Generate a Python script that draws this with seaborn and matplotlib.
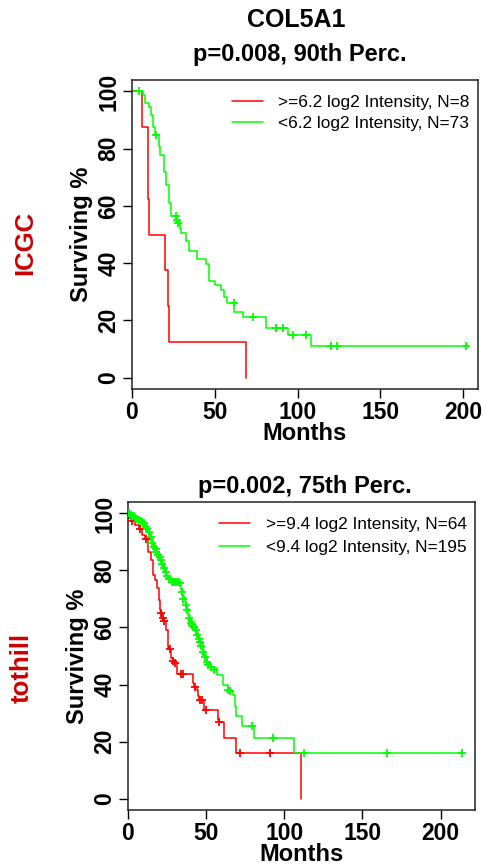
import matplotlib
matplotlib.use("Agg")
import matplotlib.pyplot as plt
import seaborn as sns

# ICGC panel (90th percentile cut)
icgc_hi_t = [0, 6.0, 9.7, 10.3, 20.2, 21.8, 22.6, 69.1]
icgc_hi_s = [100, 87.5, 62.5, 50, 37.5, 25, 12.5, 0]
icgc_lo_t = [0, 6.7, 7.7, 10.3, 11.7, 12.7, 13.7, 16.3, 16.8, 19.2, 20.8, 22.4, 23.8,
             27.0, 27.6, 28.9, 29.9, 32.5, 34.5, 39.0, 44.6, 46.6, 50.1, 53.5, 55.5,
             57.5, 61.9, 67.2, 80.7, 94.5, 108.2, 201.8]
icgc_lo_s = [100, 98.6, 95.9, 94.5, 91.8, 87.7, 84.9, 80.8, 77.9, 72.0, 67.3, 61.0, 56.3,
             55.0, 54.0, 52.0, 50.4, 47.8, 44.4, 41.4, 39.8, 33.6, 32.2, 30.6, 28.0,
             26.2, 22.8, 21.2, 17.3, 14.8, 11.0, 11.0]
icgc_lo_cens_t = [4.2, 14.3, 26.4, 27.2, 27.9, 61.6, 72.9, 87.0, 91.0, 97.1, 104.9, 120.3, 124.1, 201.8]
icgc_lo_cens_s = [100, 84.9, 56.3, 55.0, 54.0, 26.2, 21.2, 17.3, 17.3, 14.8, 14.8, 11.0, 11.0, 11.0]

# tothill panel (75th percentile cut)
toth_hi_t = [0, 0.6, 2.1, 4.3, 7.1, 9.2, 10.7, 12.8, 15.0, 16.0, 17.1, 18.6, 19.9, 20.7,
             21.2, 22.0, 22.7, 24.2, 25.7, 26.5, 27.8, 28.5, 29.5, 31.4, 41.3, 42.5,
             44.3, 44.9, 45.5, 48.6, 57.8, 58.2, 61.4, 68.9, 110.8]
toth_hi_s = [100, 98.4, 97.3, 95.8, 94.4, 92.6, 91.2, 86.6, 83.7, 78.4, 76.7, 73.7, 69.7, 66.2,
             65.2, 63.2, 62.4, 59.2, 53.3, 52.4, 49.2, 48.4, 47.7, 43.6, 40.5, 39.3,
             38.2, 35.8, 34.7, 31.2, 27.7, 26.8, 21.2, 16.0, 0]
toth_hi_cens_t = [2.6, 7.9, 11.8, 21.4, 22.5, 22.9, 26.7, 28.9, 29.9, 33.6, 34.9, 42.8,
                  46.0, 47.1, 49.6, 58.4, 71.7, 90.9]
toth_hi_cens_s = [97.3, 94.4, 91.2, 65.2, 63.2, 62.4, 52.4, 48.4, 47.7, 43.6, 43.6, 39.3,
                  34.7, 34.7, 31.2, 26.8, 16.0, 16.0]

toth_lo_t = [0, 1.1, 3.2, 5.3, 7.5, 9.6, 11.8, 12.8, 13.9, 16.0, 17.1, 18.6, 19.9, 21.4,
             22.5, 23.5, 24.6, 25.7, 27.2, 33.5, 34.2, 34.9, 36.4, 37.4, 38.5, 39.6, 41.3,
             42.8, 43.9, 44.9, 46.4, 47.7, 48.6, 49.8, 50.7, 52.4, 54.1, 56.7, 61.0, 64.2,
             65.0, 67.0, 68.4, 69.1, 72.7, 80.6, 105.9, 213.9]
toth_lo_s = [100, 99.5, 99.0, 98.2, 97.4, 96.5, 94.7, 93.6, 91.8, 88.3, 87.4, 86.6, 84.8, 83.0,
             81.6, 80.2, 78.4, 77.6, 76.1, 75.5, 73.2, 70.8, 69.1, 66.7, 64.4, 62.1, 60.9,
             60.1, 58.0, 56.2, 54.5, 52.2, 50.4, 48.7, 47.5, 46.3, 45.7, 43.4, 39.9, 38.2,
             37.6, 36.4, 32.3, 29.1, 25.6, 21.2, 16.0, 16.0]
toth_lo_cens_t = [0.5, 1.6, 2.5, 3.7, 4.5, 5.8, 6.8, 8.0, 9.0, 10.2, 11.2, 12.3, 13.3, 14.5,
                  15.3, 16.5, 17.6, 18.2, 19.2, 20.3, 21.0, 22.0, 23.0, 24.0, 25.0, 26.3,
                  28.0, 29.0, 30.0, 31.0, 32.0, 33.0, 34.5, 35.5, 36.8, 37.8, 38.9, 40.0,
                  41.0, 41.8, 42.4, 43.3, 44.2, 45.3, 46.0, 47.0, 48.0, 49.2, 50.3, 51.5,
                  53.0, 55.0, 64.2, 65.2, 79.1, 93.0, 112.7, 165.8, 213.9]
toth_lo_cens_s = [100, 99.5, 99.2, 99.0, 98.5, 98.2, 97.6, 97.4, 97.0, 96.5, 95.2, 94.7, 93.6, 91.8,
                  89.5, 88.3, 87.4, 86.6, 85.5, 84.8, 83.5, 82.2, 81.0, 79.5, 78.0, 77.0,
                  76.1, 76.1, 76.1, 76.1, 76.1, 75.5, 72.5, 70.0, 68.0, 66.0, 63.5, 61.5,
                  60.9, 60.5, 60.1, 59.0, 57.5, 55.8, 55.0, 53.5, 51.5, 49.5, 48.0, 47.0,
                  46.0, 45.0, 38.2, 37.6, 25.6, 21.2, 16.0, 16.0, 16.0]

panels = [
    dict(name="ICGC", title="p=0.008, 90th Perc.", xmax=209,
         hi=(icgc_hi_t, icgc_hi_s, None, None),
         lo=(icgc_lo_t, icgc_lo_s, icgc_lo_cens_t, icgc_lo_cens_s),
         labels=(">=6.2 log2 Intensity, N=8", "<6.2 log2 Intensity, N=73"),
         rect=[132 / 483, 1 - 389 / 867, 346 / 483, 309 / 867],
         title_xy=(300, 55), name_xy=(25, 243), leg_sp=0.33),
    dict(name="tothill", title="p=0.002, 75th Perc.", xmax=222,
         hi=(toth_hi_t, toth_hi_s, toth_hi_cens_t, toth_hi_cens_s),
         lo=(toth_lo_t, toth_lo_s, toth_lo_cens_t, toth_lo_cens_s),
         labels=(">=9.4 log2 Intensity, N=64", "<9.4 log2 Intensity, N=195"),
         rect=[128 / 483, 1 - 810 / 867, 347 / 483, 308 / 867],
         title_xy=(305, 487), name_xy=(22, 668), leg_sp=0.42),
]

sns.set_style("ticks")
plt.rcParams["font.family"] = ["Liberation Sans", "DejaVu Sans"]
plt.rcParams["text.color"] = "black"
plt.rcParams["axes.labelcolor"] = "black"
plt.rcParams["xtick.color"] = "black"
plt.rcParams["ytick.color"] = "black"

RED = "#ff0000"
GREEN = "#00ff00"

fig = plt.figure(figsize=(4.83, 8.67), dpi=100)
W, H = 483, 867

fig.text(296 / W, 1 - 20 / H, "COL5A1", ha="center", va="center",
         fontsize=18, fontweight="bold")

for p in panels:
    ax = fig.add_axes(p["rect"])
    for (t, s, ct, cs), col, lab in zip((p["hi"], p["lo"]), (RED, GREEN), p["labels"]):
        sns.lineplot(x=t, y=s, drawstyle="steps-post", estimator=None, sort=False,
                     color=col, linewidth=1.1, label=lab, ax=ax)
        if ct is not None:
            sns.scatterplot(x=ct, y=cs, marker="+", color=col, s=40,
                            linewidth=1.3, ax=ax, zorder=3)
    ax.set_xlim(0, p["xmax"])
    ax.set_ylim(-4, 104)
    ax.set_xticks([0, 50, 100, 150, 200])
    ax.set_yticks([0, 20, 40, 60, 80, 100])
    ax.tick_params(direction="out", length=6.5, width=1, labelsize=16.5, pad=2,
                   color="black", labelcolor="black")
    for lab in ax.get_xticklabels():
        lab.set_fontweight("bold")
    for lab in ax.get_yticklabels():
        lab.set_fontweight("bold")
        lab.set_rotation(90)
        lab.set_va("center")
    for sp in ax.spines.values():
        sp.set_visible(True)
        sp.set_linewidth(1.1)
        sp.set_color("#222222")
    ax.set_xlabel("Months", fontsize=17, fontweight="bold", labelpad=-1)
    ax.set_ylabel("Surviving %", fontsize=17, fontweight="bold", labelpad=3)
    ax.legend(loc="upper right", bbox_to_anchor=(1 - 5 / 346, 1 - 12 / 309),
              frameon=False, fontsize=12.4, handlelength=1.8, handletextpad=0.9,
              labelspacing=p["leg_sp"], borderpad=0.2, borderaxespad=0)
    fig.text(p["title_xy"][0] / W, 1 - p["title_xy"][1] / H, p["title"],
             ha="center", va="center", fontsize=17, fontweight="bold")
    fig.text(p["name_xy"][0] / W, 1 - p["name_xy"][1] / H, p["name"], rotation=90,
             ha="center", va="center", fontsize=18.5, fontweight="bold", color="#cc0000")

fig.savefig("out.png", dpi=100)
